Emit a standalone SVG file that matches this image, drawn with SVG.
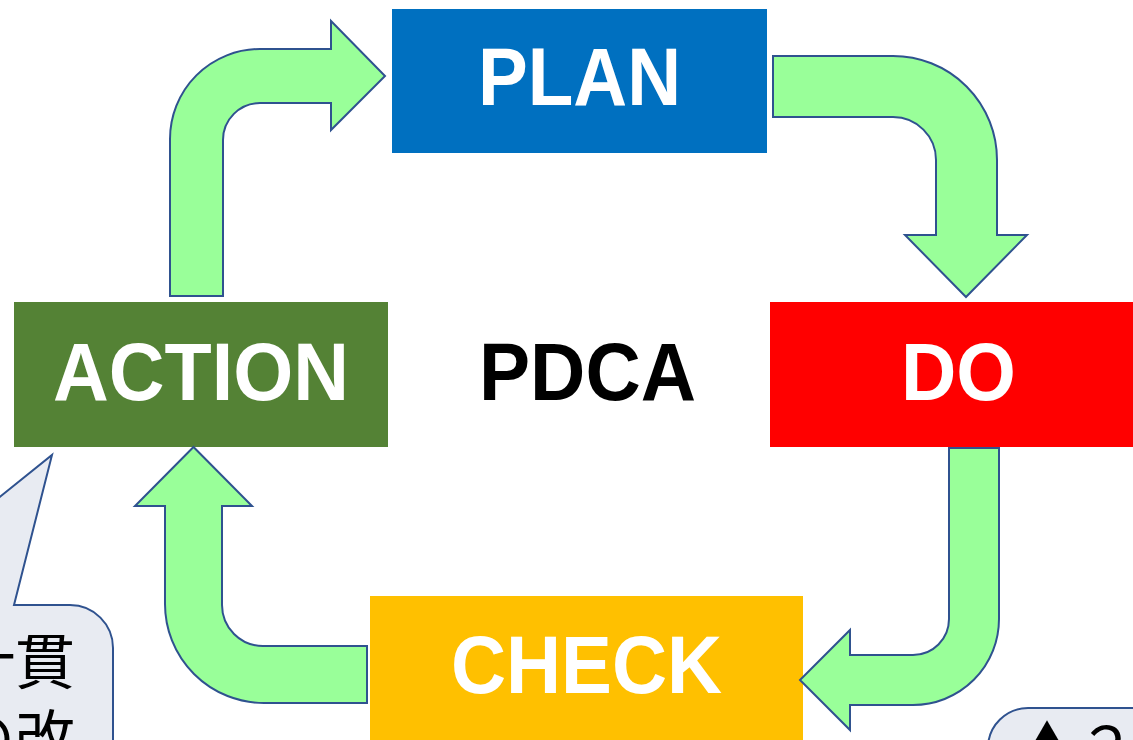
<svg xmlns="http://www.w3.org/2000/svg" width="1133" height="740" viewBox="0 0 1133 740">
<style>
.arrow{fill:#99FF99;stroke:#2F528F;stroke-width:2;stroke-linejoin:miter}
.lbl{font-family:"Liberation Sans",Arial,sans-serif;font-weight:bold;font-size:81px;text-anchor:middle}
.w{fill:#FFFFFF}
.callout{fill:#E8EBF2;stroke:#2F528F;stroke-width:2}
.jp{font-family:"Noto Sans CJK JP","Noto Sans",sans-serif;font-size:60px;fill:#000000}
</style>
<rect width="1133" height="740" fill="#FFFFFF"/>
<g id="plan">
<rect x="392" y="9" width="375" height="144" fill="#0070C0"/>
<text class="lbl w" x="579.5" y="105" textLength="203" lengthAdjust="spacingAndGlyphs">PLAN</text>
</g>
<g id="do">
<rect x="770" y="302" width="370" height="145" fill="#FF0000"/>
<text class="lbl w" x="958.5" y="400" textLength="115" lengthAdjust="spacingAndGlyphs">DO</text>
</g>
<g id="check">
<rect x="370" y="596" width="433" height="150" fill="#FFC000"/>
<text class="lbl w" x="586.5" y="693" textLength="271" lengthAdjust="spacingAndGlyphs">CHECK</text>
</g>
<g id="action">
<rect x="14" y="302" width="374" height="145" fill="#548235"/>
<text class="lbl w" x="201" y="400" textLength="296" lengthAdjust="spacingAndGlyphs">ACTION</text>
</g>
<g id="pdca">
<text class="lbl" x="587.5" y="400" fill="#000000" textLength="217" lengthAdjust="spacingAndGlyphs">PDCA</text>
</g>
<g id="connectors">
<path class="arrow" d="M170,296 L170,139 A90,90 0 0 1 260,49 L331,49 L331,21 L385,76 L331,130 L331,103 L260,103 A37,37 0 0 0 223,140 L223,296 Z"/>
<path class="arrow" d="M773,56 L893,56 A104,104 0 0 1 997,160 L997,235 L1027,235 L966,297 L905,235 L936,235 L936,160 A43,43 0 0 0 893,117 L773,117 Z"/>
<path class="arrow" d="M949,448 L999,448 L999,619 A86,86 0 0 1 913,705 L850,705 L850,730 L800,680 L850,630 L850,655 L913,655 A36,36 0 0 0 949,619 Z"/>
<path class="arrow" d="M367,703 L264,703 A99,99 0 0 1 165,604 L165,506 L135,506 L193.5,447 L252,506 L222,506 L222,605 A41,41 0 0 0 263,646 L367,646 Z"/>
</g>
<g id="callout-left">
<path class="callout" d="M-40,529 L52,455 L14,605 L70,605 A43,43 0 0 1 113,648 L113,760 L-40,760 Z"/>
<text class="jp" x="75" y="684" text-anchor="end">計貫</text>
<text class="jp" x="75" y="760" text-anchor="end">の改</text>
</g>
<g id="callout-right">
<rect class="callout" x="988" y="708" width="200" height="100" rx="40" ry="40"/>
<text class="jp" x="1017" y="770">▲２</text>
</g>
</svg>
